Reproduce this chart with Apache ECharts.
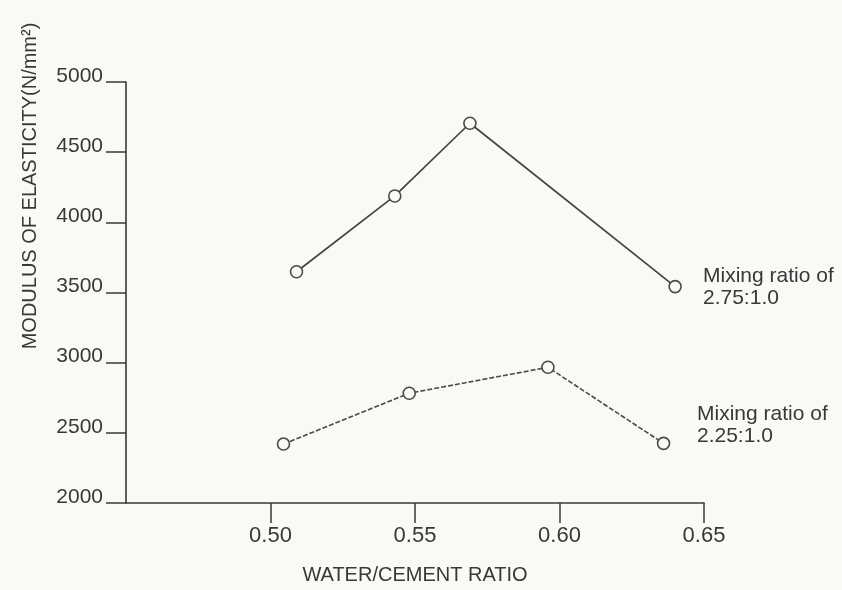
<!DOCTYPE html>
<html>
<head>
<meta charset="utf-8">
<script src="https://cdn.jsdelivr.net/npm/echarts@6/dist/echarts.min.js"></script>
<style>
html,body{margin:0;padding:0;background:#f9faf6;}
#c{width:842px;height:590px;}
</style>
</head>
<body>
<div id="c"></div>
<script>
// Data
const wcRatioHigh = [0.509, 0.543, 0.569, 0.640];
const modulusHigh = [3648, 4188, 4706, 3542];
const wcRatioLow = [0.5045, 0.548, 0.596, 0.636];
const modulusLow = [2420, 2782, 2967, 2425];
const seriesNames = ['Mixing ratio of\n2.75:1.0', 'Mixing ratio of\n2.25:1.0'];
const xTicks = [0.50, 0.55, 0.60, 0.65];
const yTicks = [2000, 2500, 3000, 3500, 4000, 4500, 5000];

const pairs = (xs, ys) => xs.map((x, i) => [x, ys[i]]);
const ink = '#383838';
const font = 'Liberation Sans';

const chart = echarts.init(document.getElementById('c'));
chart.setOption({
  backgroundColor: '#f9faf6',
  animation: false,
  grid: {left: 126, right: 138, top: 82, bottom: 87, containLabel: false},
  xAxis: {
    type: 'value', min: 0.45, max: 0.65, interval: 0.05,
    name: 'WATER/CEMENT RATIO', nameLocation: 'middle', nameGap: 62,
    nameTextStyle: {color: ink, fontFamily: font, fontSize: 20},
    axisLine: {lineStyle: {color: ink, width: 1.6}},
    axisTick: {show: true, length: 20, lineStyle: {color: ink, width: 1.5},
      customValues: xTicks},
    axisLabel: {color: ink, fontFamily: font, fontSize: 22, margin: 22,
      customValues: xTicks,
      formatter: v => v.toFixed(2)},
    splitLine: {show: false}
  },
  yAxis: {
    type: 'value', min: 2000, max: 5000, interval: 500,
    axisLine: {show: true, lineStyle: {color: ink, width: 1.6}},
    axisTick: {show: true, length: 20, lineStyle: {color: ink, width: 1.5}},
    axisLabel: {color: ink, fontFamily: font, fontSize: 21, margin: 23,
      verticalAlign: 'bottom', lineHeight: 12,
      formatter: v => yTicks.includes(v) ? String(v) : ''},
    splitLine: {show: false}
  },
  series: [
    {
      type: 'line', name: seriesNames[0], data: pairs(wcRatioHigh, modulusHigh),
      symbol: 'circle', symbolSize: 12,
      itemStyle: {color: '#f9faf6', borderColor: '#4a4a4a', borderWidth: 1.6},
      lineStyle: {color: '#444', width: 1.7}
    },
    {
      type: 'line', name: seriesNames[1], data: pairs(wcRatioLow, modulusLow),
      symbol: 'circle', symbolSize: 12,
      itemStyle: {color: '#f9faf6', borderColor: '#4a4a4a', borderWidth: 1.6},
      lineStyle: {color: '#4a4a4a', width: 1.6, type: [5, 2]}
    }
  ],
  graphic: [
    {type: 'text', left: 703, top: 265,
      style: {text: seriesNames[0], fill: ink, font: '21px "Liberation Sans"', lineHeight: 22}},
    {type: 'text', left: 697, top: 403,
      style: {text: seriesNames[1], fill: ink, font: '21px "Liberation Sans"', lineHeight: 22}},
    {type: 'text', x: 30, y: 186, rotation: Math.PI / 2,
      style: {text: 'MODULUS OF ELASTICITY(N/mm²)', fill: ink, font: '20px "Liberation Sans"',
        align: 'center', verticalAlign: 'middle'}}
  ]
});
</script>
</body>
</html>
